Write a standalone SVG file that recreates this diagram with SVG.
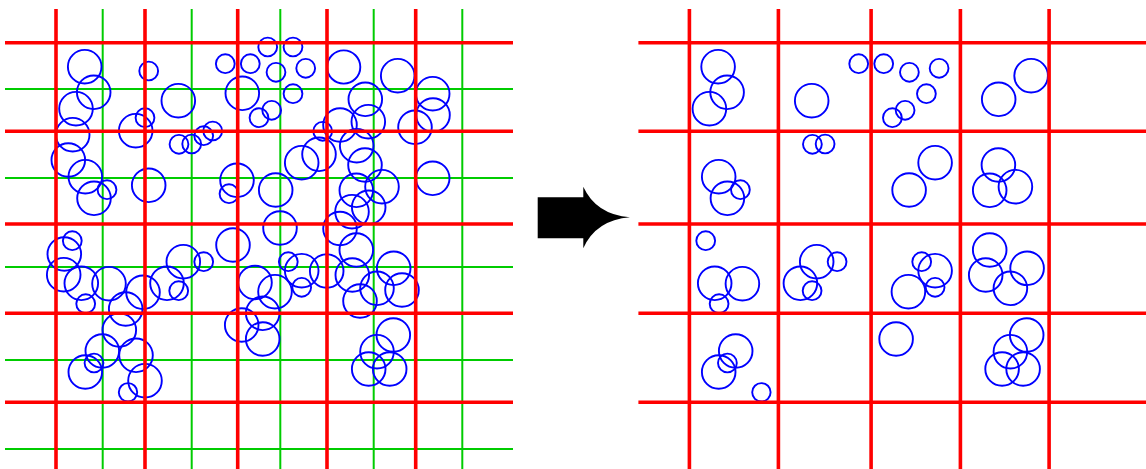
<svg xmlns="http://www.w3.org/2000/svg" xmlns:xlink="http://www.w3.org/1999/xlink" width="1146" height="469" viewBox="0 0 1146 469">
  <style>
    .fine { stroke: #00cc00; stroke-width: 2; fill: none; }
    .coarse { stroke: #ff0000; stroke-width: 3.6; fill: none; }
    .disc { stroke: #0000ff; stroke-width: 1.9; fill: none; }
    .arrow { fill: #000000; stroke: none; }
  </style>
  <defs>
    <!-- fine grid (half cell spacing) -->
    <g id="fineGrid" class="fine">
      <line x1="102.7" y1="9" x2="102.7" y2="469"/>
      <line x1="191.7" y1="9" x2="191.7" y2="469"/>
      <line x1="280.3" y1="9" x2="280.3" y2="469"/>
      <line x1="373.7" y1="9" x2="373.7" y2="469"/>
      <line x1="462.3" y1="9" x2="462.3" y2="469"/>
      <line x1="5" y1="89" x2="513" y2="89"/>
      <line x1="5" y1="178" x2="513" y2="178"/>
      <line x1="5" y1="267" x2="513" y2="267"/>
      <line x1="5" y1="360" x2="513" y2="360"/>
      <line x1="5" y1="449" x2="513" y2="449"/>
    </g>
    <!-- coarse grid (cell boundaries) -->
    <g id="coarseGrid" class="coarse">
      <line x1="56" y1="9" x2="56" y2="469"/>
      <line x1="145" y1="9" x2="145" y2="469"/>
      <line x1="237.7" y1="9" x2="237.7" y2="469"/>
      <line x1="327" y1="9" x2="327" y2="469"/>
      <line x1="415.7" y1="9" x2="415.7" y2="469"/>
      <line x1="5" y1="42.7" x2="513" y2="42.7"/>
      <line x1="5" y1="131.3" x2="513" y2="131.3"/>
      <line x1="5" y1="224" x2="513" y2="224"/>
      <line x1="5" y1="313.3" x2="513" y2="313.3"/>
      <line x1="5" y1="402.3" x2="513" y2="402.3"/>
    </g>
  </defs>

  <!-- all circles, fine and coarse grids -->
  <g id="panel-all">
    <use href="#fineGrid"/>
    <g id="circles" class="disc">
      <circle id="c1" cx="84.7" cy="66.7" r="16.8"/>
      <circle id="c2" cx="93.7" cy="92.3" r="16.8"/>
      <circle id="c3" cx="76" cy="108.7" r="16.8"/>
      <circle id="c4" cx="72.7" cy="134.7" r="16.8"/>
      <circle id="c5" cx="68.3" cy="160" r="16.8"/>
      <circle id="c6" cx="85.3" cy="176.7" r="16.8"/>
      <circle id="c7" cx="94" cy="198.3" r="16.8"/>
      <circle id="c8" cx="107" cy="189.7" r="9.4"/>
      <circle id="c9" cx="148.7" cy="71" r="9.4"/>
      <circle id="c10" cx="178.3" cy="100.7" r="16.8"/>
      <circle id="c11" cx="145" cy="117.7" r="9.4"/>
      <circle id="c12" cx="135.7" cy="130.7" r="16.8"/>
      <circle id="c13" cx="179" cy="144.3" r="9.4"/>
      <circle id="c14" cx="191.7" cy="144" r="9.4"/>
      <circle id="c15" cx="203.7" cy="135.7" r="9.4"/>
      <circle id="c16" cx="212.7" cy="131" r="9.4"/>
      <circle id="c17" cx="148.7" cy="185.3" r="16.8"/>
      <circle id="c18" cx="225.3" cy="63.7" r="9.4"/>
      <circle id="c19" cx="242.3" cy="93.3" r="16.8"/>
      <circle id="c20" cx="237" cy="180.3" r="16.8"/>
      <circle id="c21" cx="229" cy="193.7" r="9.4"/>
      <circle id="c22" cx="250.3" cy="63.7" r="9.4"/>
      <circle id="c23" cx="267.7" cy="47" r="9.4"/>
      <circle id="c24" cx="293" cy="47" r="9.4"/>
      <circle id="c25" cx="276" cy="72.3" r="9.4"/>
      <circle id="c26" cx="305.7" cy="68.3" r="9.4"/>
      <circle id="c27" cx="293" cy="93.7" r="9.4"/>
      <circle id="c28" cx="259" cy="117.7" r="9.4"/>
      <circle id="c29" cx="271.7" cy="110.3" r="9.4"/>
      <circle id="c30" cx="343.7" cy="67" r="16.6"/>
      <circle id="c31" cx="397.7" cy="75.7" r="16.8"/>
      <circle id="c32" cx="365.3" cy="99.3" r="16.8"/>
      <circle id="c33" cx="432.7" cy="93.7" r="16.8"/>
      <circle id="c34" cx="433" cy="115" r="16.8"/>
      <circle id="c35" cx="340" cy="125" r="16.8"/>
      <circle id="c36" cx="368.3" cy="121.7" r="16.8"/>
      <circle id="c37" cx="415" cy="127.3" r="16.8"/>
      <circle id="c38" cx="322.7" cy="131.3" r="9.4"/>
      <circle id="c39" cx="356.7" cy="145.7" r="16.8"/>
      <circle id="c40" cx="319" cy="154.3" r="16.8"/>
      <circle id="c41" cx="301.7" cy="162.7" r="16.8"/>
      <circle id="c42" cx="365" cy="165" r="16.8"/>
      <circle id="c43" cx="382" cy="186.7" r="16.8"/>
      <circle id="c44" cx="356.3" cy="190.3" r="16.8"/>
      <circle id="c45" cx="368.7" cy="207.3" r="16.8"/>
      <circle id="c46" cx="352" cy="211.7" r="16.8"/>
      <circle id="c47" cx="432.7" cy="178.3" r="16.8"/>
      <circle id="c48" cx="275.7" cy="190" r="16.8"/>
      <circle id="c49" cx="72.3" cy="240.7" r="9.4"/>
      <circle id="c50" cx="64.3" cy="254" r="16.8"/>
      <circle id="c51" cx="63.7" cy="274.7" r="16.8"/>
      <circle id="c52" cx="81.3" cy="283.3" r="16.8"/>
      <circle id="c53" cx="85.7" cy="303.7" r="9.4"/>
      <circle id="c54" cx="109" cy="283.7" r="16.8"/>
      <circle id="c55" cx="143" cy="292.3" r="16.8"/>
      <circle id="c56" cx="125.7" cy="309" r="16.8"/>
      <circle id="c57" cx="167" cy="283.3" r="16.8"/>
      <circle id="c58" cx="178.7" cy="290.7" r="9.4"/>
      <circle id="c59" cx="183.3" cy="261.7" r="16.8"/>
      <circle id="c60" cx="203.7" cy="261.7" r="9.4"/>
      <circle id="c61" cx="233" cy="245" r="16.8"/>
      <circle id="c62" cx="119.3" cy="330" r="16.8"/>
      <circle id="c63" cx="102.3" cy="351" r="16.8"/>
      <circle id="c64" cx="94" cy="363" r="9.4"/>
      <circle id="c65" cx="85.3" cy="372" r="16.8"/>
      <circle id="c66" cx="136" cy="355.3" r="16.8"/>
      <circle id="c67" cx="145" cy="380.7" r="16.8"/>
      <circle id="c68" cx="128" cy="392.3" r="9.2"/>
      <circle id="c69" cx="241.7" cy="325" r="16.8"/>
      <circle id="c70" cx="280" cy="228" r="16.8"/>
      <circle id="c71" cx="340" cy="228.5" r="16.8"/>
      <circle id="c72" cx="356.3" cy="250" r="16.8"/>
      <circle id="c73" cx="288.3" cy="261.7" r="9.4"/>
      <circle id="c74" cx="301.7" cy="270.7" r="16.8"/>
      <circle id="c75" cx="326.7" cy="271" r="16.8"/>
      <circle id="c76" cx="301.7" cy="287.3" r="9.4"/>
      <circle id="c77" cx="352.3" cy="275" r="16.8"/>
      <circle id="c78" cx="393.7" cy="268.3" r="16.8"/>
      <circle id="c79" cx="377" cy="288.3" r="16.8"/>
      <circle id="c80" cx="402" cy="290" r="16.8"/>
      <circle id="c81" cx="360" cy="301" r="16.8"/>
      <circle id="c82" cx="275" cy="291.7" r="16.8"/>
      <circle id="c83" cx="255" cy="282.5" r="16.8"/>
      <circle id="c84" cx="262.7" cy="313.3" r="16.8"/>
      <circle id="c85" cx="262.7" cy="339" r="16.8"/>
      <circle id="c86" cx="393.3" cy="335" r="16.8"/>
      <circle id="c87" cx="377" cy="351.7" r="16.8"/>
      <circle id="c88" cx="368.7" cy="369" r="16.8"/>
      <circle id="c89" cx="389.7" cy="369" r="16.8"/>
    </g>
    <use href="#coarseGrid"/>
  </g>

  <!-- transition arrow -->
  <g id="arrow">
    <path class="arrow" d="M537.7,197.3 L583.3,197.3 L583.3,186.7 Q596,214.5 630,217.3 Q596,220 583.3,248.3 L583.3,238.3 L537.7,238.3 Z"/>
  </g>

  <!-- only circles lying wholly inside one coarse cell -->
  <g id="panel-kept" transform="translate(633.4,0)">
    <g class="disc">
      <use href="#c1"/><use href="#c2"/><use href="#c3"/>
      <use href="#c6"/><use href="#c7"/><use href="#c8"/>
      <use href="#c10"/><use href="#c13"/><use href="#c14"/>
      <use href="#c18"/><use href="#c22"/><use href="#c25"/>
      <use href="#c26"/><use href="#c27"/><use href="#c28"/>
      <use href="#c29"/><use href="#c31"/><use href="#c32"/>
      <use href="#c41"/><use href="#c42"/><use href="#c43"/>
      <use href="#c44"/><use href="#c48"/>
      <use href="#c49"/><use href="#c52"/><use href="#c53"/>
      <use href="#c54"/><use href="#c57"/><use href="#c58"/>
      <use href="#c59"/><use href="#c60"/>
      <use href="#c63"/><use href="#c64"/><use href="#c65"/>
      <use href="#c68"/>
      <use href="#c72"/><use href="#c73"/><use href="#c74"/>
      <use href="#c76"/><use href="#c77"/><use href="#c78"/>
      <use href="#c79"/><use href="#c82"/><use href="#c85"/>
      <use href="#c86"/><use href="#c87"/><use href="#c88"/>
      <use href="#c89"/>
    </g>
    <use href="#coarseGrid"/>
  </g>
</svg>
